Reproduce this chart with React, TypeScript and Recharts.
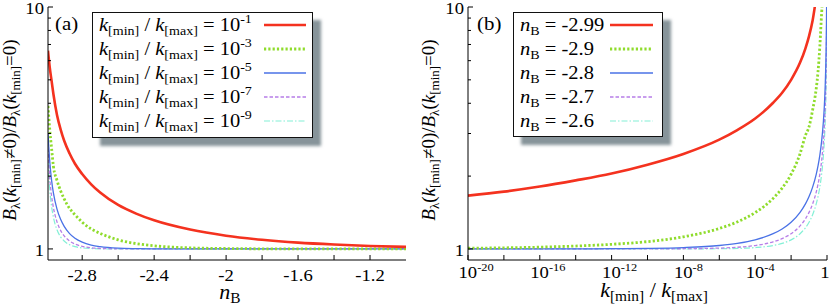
import React from 'react';
import { LineChart, Line, XAxis, YAxis, Legend } from 'recharts';

const FONT = 'Liberation Serif, Times New Roman, serif';

// ---- panel (a): ratio vs n_B for several k_min/k_max ----
const nB = [-2.99, -2.98, -2.97, -2.96, -2.94, -2.92, -2.9, -2.87, -2.84, -2.8, -2.75, -2.7, -2.6, -2.5, -2.4, -2.2, -2.0, -1.8, -1.6, -1.4, -1.2, -1.0];
const ratioA1 = [6.6, 5.6, 4.95, 4.37, 3.58, 3.12, 2.8, 2.48, 2.25, 2.04, 1.85, 1.71, 1.52, 1.4, 1.313, 1.202, 1.134, 1.091, 1.062, 1.043, 1.029, 1.02];
const ratioA3 = [3.9, 3.1, 2.6, 2.2, 1.92, 1.74, 1.61, 1.47, 1.385, 1.29, 1.21, 1.16, 1.09, 1.052, 1.03, 1.01, 1.004, 1.001, 1.0, 1.0, 1.0, 1.0];
const ratioA5 = [3.0, 2.29, 1.92, 1.705, 1.46, 1.325, 1.239, 1.157, 1.107, 1.067, 1.038, 1.022, 1.007, 1.0025, 1.0008, 1.0001, 1.0, 1.0, 1.0, 1.0, 1.0, 1.0];
const ratioA7 = [2.6, 1.956, 1.655, 1.484, 1.294, 1.193, 1.132, 1.078, 1.047, 1.025, 1.011, 1.005, 1.001, 1.0002, 1.0, 1.0, 1.0, 1.0, 1.0, 1.0, 1.0, 1.0];
const ratioA9 = [2.3, 1.751, 1.496, 1.353, 1.2, 1.122, 1.078, 1.041, 1.022, 1.01, 1.004, 1.0013, 1.0002, 1.0, 1.0, 1.0, 1.0, 1.0, 1.0, 1.0, 1.0, 1.0];

const nBTicks = [-2.8, -2.6, -2.4, -2.2, -2.0, -1.8, -1.6, -1.4, -1.2];
const nBLabels = ['-2.8', '', '-2.4', '', '-2', '', '-1.6', '', '-1.2'];

// ---- panel (b): ratio vs k_min/k_max for several n_B ----
const kRatio = [1e-20, 1e-18, 1e-16, 1e-14, 1e-12, 1e-10, 1e-8, 1e-6, 1e-5, 1e-4, 1e-3, 3.16e-3, 1e-2, 3.16e-2, 6.31e-2, 0.1, 0.158, 0.251, 0.316, 0.398, 0.501, 0.631, 0.708, 0.794, 0.851, 0.891, 0.933, 0.955, 0.977];
const ratioB299 = [1.66, 1.725, 1.81, 1.92, 2.05, 2.23, 2.47, 2.83, 3.1, 3.46, 4.02, 4.42, 5.0, 5.89, 6.75, 7.58, 8.8, 10.9, 12, null, null, null, null, null, null, null, null, null, null];
const ratioB29 = [1.0067, 1.0106, 1.017, 1.028, 1.045, 1.072, 1.122, 1.215, 1.293, 1.413, 1.618, 1.784, 2.036, 2.476, 2.947, 3.2, 3.75, 4.6, 5.4, 6.86, 9.4, 12, null, null, null, null, null, null, null];
const ratioB28 = [1.0, 1.0001, 1.0003, 1.0008, 1.002, 1.005, 1.013, 1.033, 1.054, 1.09, 1.156, 1.209, 1.289, 1.416, 1.535, 1.646, 1.801, 2.035, 2.205, 2.438, 2.784, 3.371, 3.871, 4.713, 5.615, 6.629, 8.537, 10.44, null];
const ratioB27 = [1.0, 1.0, 1.0, 1.0, 1.0001, 1.0005, 1.002, 1.008, 1.016, 1.033, 1.07, 1.103, 1.156, 1.245, 1.332, 1.416, 1.535, 1.717, 1.85, 2.035, 2.311, 2.784, 3.187, 3.871, 4.603, 5.427, 6.983, 8.537, 12.06];
const ratioB26 = [1.0, 1.0, 1.0, 1.0, 1.0, 1.0, 1.0003, 1.002, 1.005, 1.013, 1.033, 1.054, 1.09, 1.156, 1.223, 1.289, 1.385, 1.535, 1.646, 1.801, 2.035, 2.438, 2.784, 3.371, 4.002, 4.713, 6.058, 7.402, 10.44];

const kTicks = [1e-20, 1e-18, 1e-16, 1e-14, 1e-12, 1e-10, 1e-8, 1e-6, 1e-4, 1e-2, 1];
const kExponents = ['-20', '', '-16', '', '-12', '', '-8', '', '-4', '', ''];

// shared y axis
const yTicks = [1, 2, 3, 4, 5, 6, 7, 8, 9, 10];
const yLabels = ['1', '', '', '', '', '', '', '', '', '10'];

const RED = '#f4321f';
const GREEN = '#8fdc2c';
const BLUE = '#4a72e6';
const PURPLE = '#b77ee8';
const CYAN = '#84f0d6';

type Series = { key: string; label: string; color: string; width: number; dash?: string };

const seriesA: Series[] = [
  { key: 'a1', label: '-1', color: RED, width: 2.6 },
  { key: 'a3', label: '-3', color: GREEN, width: 2.8, dash: '2.2 2.1' },
  { key: 'a5', label: '-5', color: BLUE, width: 1.3 },
  { key: 'a7', label: '-7', color: PURPLE, width: 1.3, dash: '3.5 2' },
  { key: 'a9', label: '-9', color: CYAN, width: 1.2, dash: '6 2 1.5 2' },
];
const seriesB: Series[] = [
  { key: 'b299', label: '-2.99', color: RED, width: 2.6 },
  { key: 'b29', label: '-2.9', color: GREEN, width: 2.8, dash: '2.2 2.1' },
  { key: 'b28', label: '-2.8', color: BLUE, width: 1.3 },
  { key: 'b27', label: '-2.7', color: PURPLE, width: 1.3, dash: '3.5 2' },
  { key: 'b26', label: '-2.6', color: CYAN, width: 1.2, dash: '6 2 1.5 2' },
];

const dataA = nB.map((x, i) => ({ x, a1: ratioA1[i], a3: ratioA3[i], a5: ratioA5[i], a7: ratioA7[i], a9: ratioA9[i] }));
const dataB = kRatio.map((x, i) => ({ x, b299: ratioB299[i], b29: ratioB29[i], b28: ratioB28[i], b27: ratioB27[i], b26: ratioB26[i] }));

const TICK = 5;
const SX = 1.13;
const TF = 16.5;

// rich text: segments with italic / sub / sup, rendered as tspans with relative dy
type Seg = { t: string; i?: boolean; pos?: 'sub' | 'sup' };
function rich(segs: Seg[], base: number) {
  const small = Math.round(base * 0.68);
  const off = (p?: string) => (p === 'sub' ? base * 0.22 : p === 'sup' ? -base * 0.42 : 0);
  let prev = 0;
  return segs.map((s, k) => {
    const o = off(s.pos);
    const dy = o - prev;
    prev = o;
    return (
      <tspan key={k} dy={dy || undefined} fontStyle={s.i ? 'italic' : undefined} fontSize={s.pos ? small : undefined}>
        {s.t}
      </tspan>
    );
  });
}

function BottomTickA(props: any) {
  const { x, y, payload } = props;
  const label = nBLabels[nBTicks.indexOf(payload.value)] || '';
  return (
    <g>
      <line x1={x} x2={x} y1={y} y2={y - TICK} stroke="#000" />
      {label && (
        <text transform={`translate(${x},${y + 21}) scale(${SX},1)`} textAnchor="middle" fontSize={TF} fontFamily={FONT} fill="#000">
          {label}
        </text>
      )}
    </g>
  );
}

function BottomTickB(props: any) {
  const { x, y, payload } = props;
  const idx = kTicks.indexOf(payload.value);
  const exp = kExponents[idx] || '';
  const isOne = payload.value === 1;
  return (
    <g>
      <line x1={x} x2={x} y1={y} y2={y - TICK} stroke="#000" />
      {exp && (
        <text transform={`translate(${x - 9.5},${y + 18}) scale(${SX},1)`} textAnchor="start" fontSize={TF} fontFamily={FONT} fill="#000">
          {rich([{ t: '10' }, { t: exp, pos: 'sup' }], TF)}
        </text>
      )}
      {isOne && (
        <text transform={`translate(${x - 2},${y + 18}) scale(${SX},1)`} textAnchor="middle" fontSize={TF} fontFamily={FONT} fill="#000">
          1
        </text>
      )}
    </g>
  );
}

function TopTick(props: any) {
  const { x, y } = props;
  return <line x1={x} x2={x} y1={y} y2={y + TICK} stroke="#000" />;
}

function LeftTick(props: any) {
  const { x, y, payload } = props;
  const label = yLabels[yTicks.indexOf(payload.value)] || '';
  const len = label ? TICK : 3;
  return (
    <g>
      <line x1={x} x2={x + len} y1={y} y2={y} stroke="#000" />
      {label && (
        <text transform={`translate(${x - 4},${y + 7}) scale(${SX},1)`} textAnchor="end" fontSize={TF} fontFamily={FONT} fill="#000">
          {label}
        </text>
      )}
    </g>
  );
}

function RightTick(props: any) {
  const { x, y, payload } = props;
  const len = payload.value === 1 || payload.value === 10 ? TICK : 3;
  return <line x1={x} x2={x - len} y1={y} y2={y} stroke="#000" />;
}

function LegendBox({ series, kind, width, height }: { series: Series[]; kind: 'a' | 'b'; width: number; height: number }) {
  const lineX1 = kind === 'a' ? 171 : 96;
  const lineX2 = kind === 'a' ? 213 : 139;
  return (
    <div
      style={{
        width,
        height,
        border: '1.6px solid #111',
        background: '#fff',
        boxShadow: '8px 8px 3px rgba(70,90,100,0.65)',
        boxSizing: 'border-box',
      }}
    >
      <svg width={width - 3} height={height - 3} style={{ display: 'block', overflow: 'visible' }}>
        {series.map((s, i) => {
          const cy = 12 + i * 24;
          const segs: Seg[] =
            kind === 'a'
              ? [{ t: 'k', i: true }, { t: '[min]', pos: 'sub' }, { t: ' / ' }, { t: 'k', i: true }, { t: '[max]', pos: 'sub' }, { t: ' = 10' }, { t: s.label, pos: 'sup' }]
              : [{ t: 'n', i: true }, { t: 'B', pos: 'sub' }, { t: ' = ' + s.label }];
          return (
            <g key={s.key}>
              <text transform={`translate(6,${cy + 6}) scale(1.08,1)`} fontSize={19} fontFamily={FONT} fill="#000">
                {rich(segs, 19)}
              </text>
              <line x1={lineX1} x2={lineX2} y1={cy} y2={cy} stroke={s.color} strokeWidth={s.width} strokeDasharray={s.dash} />
            </g>
          );
        })}
      </svg>
    </div>
  );
}

function PanelA() {
  return (
    <LineChart width={415} height={305} data={dataA} margin={{ top: 7, right: 9, bottom: 0, left: 0 }}>
      <XAxis xAxisId="bottom" dataKey="x" type="number" domain={[-2.99, -1]} allowDataOverflow ticks={nBTicks} interval={0}
        tickSize={0} tickMargin={0} tickLine={false} tick={BottomTickA} height={45} axisLine={{ stroke: '#000' }} />
      <XAxis xAxisId="top" orientation="top" dataKey="x" type="number" domain={[-2.99, -1]} allowDataOverflow ticks={nBTicks} interval={0}
        tickSize={0} tickMargin={0} tickLine={false} tick={TopTick} height={0} axisLine={{ stroke: '#000' }} />
      <YAxis yAxisId="left" type="number" scale="log" domain={[0.9, 10]} allowDataOverflow ticks={yTicks} interval={0}
        tickSize={0} tickMargin={0} tickLine={false} tick={LeftTick} width={48} axisLine={{ stroke: '#000' }} />
      <YAxis yAxisId="right" orientation="right" type="number" scale="log" domain={[0.9, 10]} allowDataOverflow ticks={yTicks} interval={0}
        tickSize={0} tickMargin={0} tickLine={false} tick={RightTick} width={0} axisLine={{ stroke: '#000' }} />
      {seriesA.slice().reverse().map((s) => (
        <Line key={s.key} xAxisId="bottom" yAxisId="left" dataKey={s.key} type="monotone" stroke={s.color}
          strokeWidth={s.width} strokeDasharray={s.dash} dot={false} isAnimationActive={false} />
      ))}
      <Legend layout="vertical" align="center" verticalAlign="middle" wrapperStyle={{ left: 92, top: 12 }}
        content={() => <LegendBox series={seriesA} kind="a" width={221} height={126} />} />
    </LineChart>
  );
}

function PanelB() {
  return (
    <LineChart width={415} height={305} data={dataB} margin={{ top: 7, right: 3, bottom: 0, left: 0 }}>
      <XAxis xAxisId="bottom" dataKey="x" type="number" scale="log" domain={[1e-20, 1]} allowDataOverflow ticks={kTicks} interval={0}
        tickSize={0} tickMargin={0} tickLine={false} tick={BottomTickB} height={45} axisLine={{ stroke: '#000' }} />
      <XAxis xAxisId="top" orientation="top" dataKey="x" type="number" scale="log" domain={[1e-20, 1]} allowDataOverflow ticks={kTicks} interval={0}
        tickSize={0} tickMargin={0} tickLine={false} tick={TopTick} height={0} axisLine={{ stroke: '#000' }} />
      <YAxis yAxisId="left" type="number" scale="log" domain={[0.9, 10]} allowDataOverflow ticks={yTicks} interval={0}
        tickSize={0} tickMargin={0} tickLine={false} tick={LeftTick} width={53} axisLine={{ stroke: '#000' }} />
      <YAxis yAxisId="right" orientation="right" type="number" scale="log" domain={[0.9, 10]} allowDataOverflow ticks={yTicks} interval={0}
        tickSize={0} tickMargin={0} tickLine={false} tick={RightTick} width={0} axisLine={{ stroke: '#000' }} />
      {seriesB.slice().reverse().map((s) => (
        <Line key={s.key} xAxisId="bottom" yAxisId="left" dataKey={s.key} type="monotone" stroke={s.color}
          strokeWidth={s.width} strokeDasharray={s.dash} dot={false} isAnimationActive={false} />
      ))}
      <Legend layout="vertical" align="center" verticalAlign="middle" wrapperStyle={{ left: 98, top: 12 }}
        content={() => <LegendBox series={seriesB} kind="b" width={150} height={125} />} />
    </LineChart>
  );
}

const yTitleSegs: Seg[] = [
  { t: 'B', i: true }, { t: 'λ', pos: 'sub' }, { t: '(' }, { t: 'k', i: true }, { t: '[min]', pos: 'sub' }, { t: '≠0)/' },
  { t: 'B', i: true }, { t: 'λ', pos: 'sub' }, { t: '(' }, { t: 'k', i: true }, { t: '[min]', pos: 'sub' }, { t: '=0)' },
];

function YTitle({ x, y }: { x: number; y: number }) {
  return (
    <text transform={`translate(${x},${y}) rotate(-90)`} textAnchor="middle" fontSize={19} fontFamily={FONT} fill="#000">
      {rich(yTitleSegs, 19)}
    </text>
  );
}

export default function App() {
  return (
    <div style={{ position: 'absolute', left: 0, top: 0, width: 830, height: 305, background: '#fff', overflow: 'hidden' }}>
      <div style={{ position: 'absolute', left: 0, top: 0 }}>
        <PanelA />
      </div>
      <div style={{ position: 'absolute', left: 415, top: 0 }}>
        <PanelB />
      </div>
      <svg width={830} height={305} style={{ position: 'absolute', left: 0, top: 0, pointerEvents: 'none' }}>
        <text transform="translate(55,30) scale(1.1,1)" fontSize={19} fontFamily={FONT} fill="#000">(a)</text>
        <text transform="translate(477,30) scale(1.1,1)" fontSize={19} fontFamily={FONT} fill="#000">(b)</text>
        <YTitle x={16} y={130} />
        <YTitle x={435} y={130} />
        <text transform="translate(230,299) scale(1.1,1)" textAnchor="middle" fontSize={20} fontFamily={FONT} fill="#000">
          {rich([{ t: 'n', i: true }, { t: 'B', pos: 'sub' }], 20)}
        </text>
        <text transform="translate(654,297) scale(1.1,1)" textAnchor="middle" fontSize={20} fontFamily={FONT} fill="#000">
          {rich([{ t: 'k', i: true }, { t: '[min]', pos: 'sub' }, { t: ' / ' }, { t: 'k', i: true }, { t: '[max]', pos: 'sub' }], 20)}
        </text>
      </svg>
    </div>
  );
}
